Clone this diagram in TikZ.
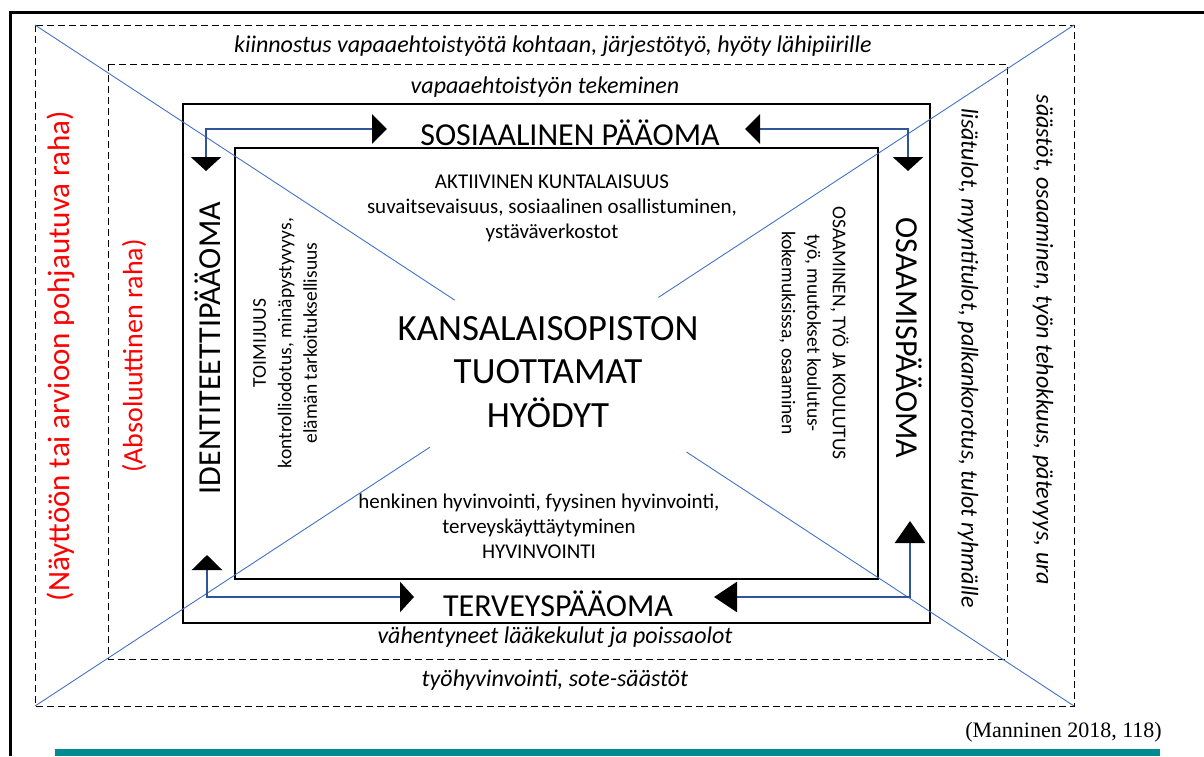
\documentclass[tikz,border=0pt]{standalone}
\usepackage{fontspec}
\setmainfont{Carlito}
\newfontfamily\srcfont{Liberation Serif}
\usetikzlibrary{arrows.meta,calc}

\definecolor{diagblue}{RGB}{68,114,196}
\definecolor{flowblue}{RGB}{47,85,151}
\definecolor{barteal}{RGB}{0,139,147}

\begin{document}
\begin{tikzpicture}[x=1pt, y=-1pt,
  every node/.style={inner sep=0pt, align=center},
  dashbox/.style={dash pattern=on 7pt off 4pt, line width=0.9pt},
  solidbox/.style={line width=1.1pt},
  diag/.style={diagblue, line width=0.9pt},
  flow/.style={flowblue, line width=2.6pt, line join=miter},
  outertxt/.style={font=\fontsize{24}{28}\selectfont\itshape},
  capital/.style={font=\fontsize{32}{36}\selectfont},
  smalltxt/.style={font=\fontsize{21}{25}\selectfont},
  sidetxt/.style={font=\fontsize{19.5}{25.5}\selectfont},
  bigtxt/.style={font=\fontsize{37}{43.5}\selectfont},
  moneytxt/.style={text=red},
]
\useasboundingbox (0,0) rectangle (1204,756);

% frame and bar
\draw[line width=3pt] (10,756) -- (10,12) -- (1204,12);
\fill[barteal] (55,749) rectangle (1160,756);

% boxes
\coordinate (oTL) at (35,25);   \coordinate (oBR) at (1074,706);
\coordinate (oTR) at (1074,25); \coordinate (oBL) at (35,706);
\draw[dashbox] (oTL) rectangle (oBR); % ulompi
\draw[dashbox] (108,64) rectangle (1007,659); % sisempi
\draw[solidbox] (183,104) rectangle (930,623); % paaomat
\draw[solidbox] (235,148) rectangle (878,579); % hyodyt

% diagonals, broken round the centre text
\draw[diag] (oTL) -- ($(oTL)!0.404!(oBR)$);
\draw[diag] ($(oTL)!0.627!(oBR)$) -- (oBR);
\draw[diag] (oTR) -- ($(oTR)!0.400!(oBL)$);
\draw[diag] ($(oTR)!0.620!(oBL)$) -- (oBL);

% arrows
\coordinate (tlA) at (206,171); \coordinate (tlC) at (206,129); \coordinate (tlB) at (387,129);
\coordinate (trA) at (908,171); \coordinate (trC) at (908,129); \coordinate (trB) at (745,129);
\coordinate (blA) at (207,555); \coordinate (blC) at (207,597); \coordinate (blB) at (414,597);
\coordinate (brA) at (910,521); \coordinate (brC) at (910,597); \coordinate (brB) at (714,597);
\draw[flow, {Triangle[length=14pt,width=30pt,color=black]}-{Triangle[length=15pt,width=29pt,color=black]}] (tlA) -- (tlC) -- (tlB);
\draw[flow, {Triangle[length=14pt,width=30pt,color=black]}-{Triangle[length=15pt,width=29pt,color=black]}] (trA) -- (trC) -- (trB);
\draw[flow, {Triangle[length=15pt,width=30pt,color=black]}-{Triangle[length=14pt,width=30pt,color=black]}] (blA) -- (blC) -- (blB);
\draw[flow, {Triangle[length=22pt,width=30pt,color=black]}-{Triangle[length=23pt,width=30pt,color=black]}] (brA) -- (brC) -- (brB);

% outer texts
\node[outertxt] (kiinnostus) at (553,46) {kiinnostus vapaaehtoistyötä kohtaan, järjestötyö, hyöty lähipiirille};
\node[outertxt] (tekeminen) at (545,87) {vapaaehtoistyön tekeminen};
\node[outertxt] (kulut) at (555,637) {vähentyneet lääkekulut ja poissaolot};
\node[outertxt] (sote) at (555,680) {työhyvinvointi, sote-säästöt};
\node[outertxt, rotate=-90] (lisatulot) at (968,358) {lisätulot, myyntitulot, palkankorotus, tulot ryhmälle};
\node[outertxt, rotate=-90] (saastot) at (1043,340) {säästöt, osaaminen, työn tehokkuus, pätevyys, ura};
\node[moneytxt, font=\fontsize{31}{34}\selectfont, rotate=90] (nayttoraha) at (61,356) {(Näyttöön tai arvioon pohjautuva raha)};
\node[moneytxt, font=\fontsize{28}{32}\selectfont, rotate=90] (absraha) at (134,356) {(Absoluuttinen raha)};

% capitals
\node[capital] (sosiaalinen) at (570,133) {SOSIAALINEN PÄÄOMA};
\node[capital] (terveys) at (558,604) {TERVEYSPÄÄOMA};
\node[capital, rotate=90] (identiteetti) at (208,348) {IDENTITEETTIPÄÄOMA};
\node[capital, rotate=-90] (osaamis) at (909,338) {OSAAMISPÄÄOMA};

% inner texts
\node[smalltxt] (aktiivinen) at (552,208) {AKTIIVINEN KUNTALAISUUS\\suvaitsevaisuus, sosiaalinen osallistuminen,\\ystäväverkostot};
\node[smalltxt] (hyvinvointi) at (539,526) {henkinen hyvinvointi, fyysinen hyvinvointi,\\terveyskäyttäytyminen\\HYVINVOINTI};
\node[sidetxt, rotate=90] (toimijuus) at (285,343) {TOIMIJUUS\\kontrolliodotus, minäpystyvyys,\\elämän tarkoituksellisuus};
\node[sidetxt, rotate=-90] (osaaminen) at (814,333) {OSAAMINEN, TYÖ JA KOULUTUS\\työ, muutokset koulutus-\\kokemuksissa, osaaminen};
\node[bigtxt] (hyodyt) at (548,372) {KANSALAISOPISTON\\TUOTTAMAT\\HYÖDYT};

% source
\node[font=\srcfont\fontsize{22}{26}\selectfont, anchor=east] (lahde) at (1162,732) {(Manninen 2018, 118)};
\end{tikzpicture}
\end{document}
